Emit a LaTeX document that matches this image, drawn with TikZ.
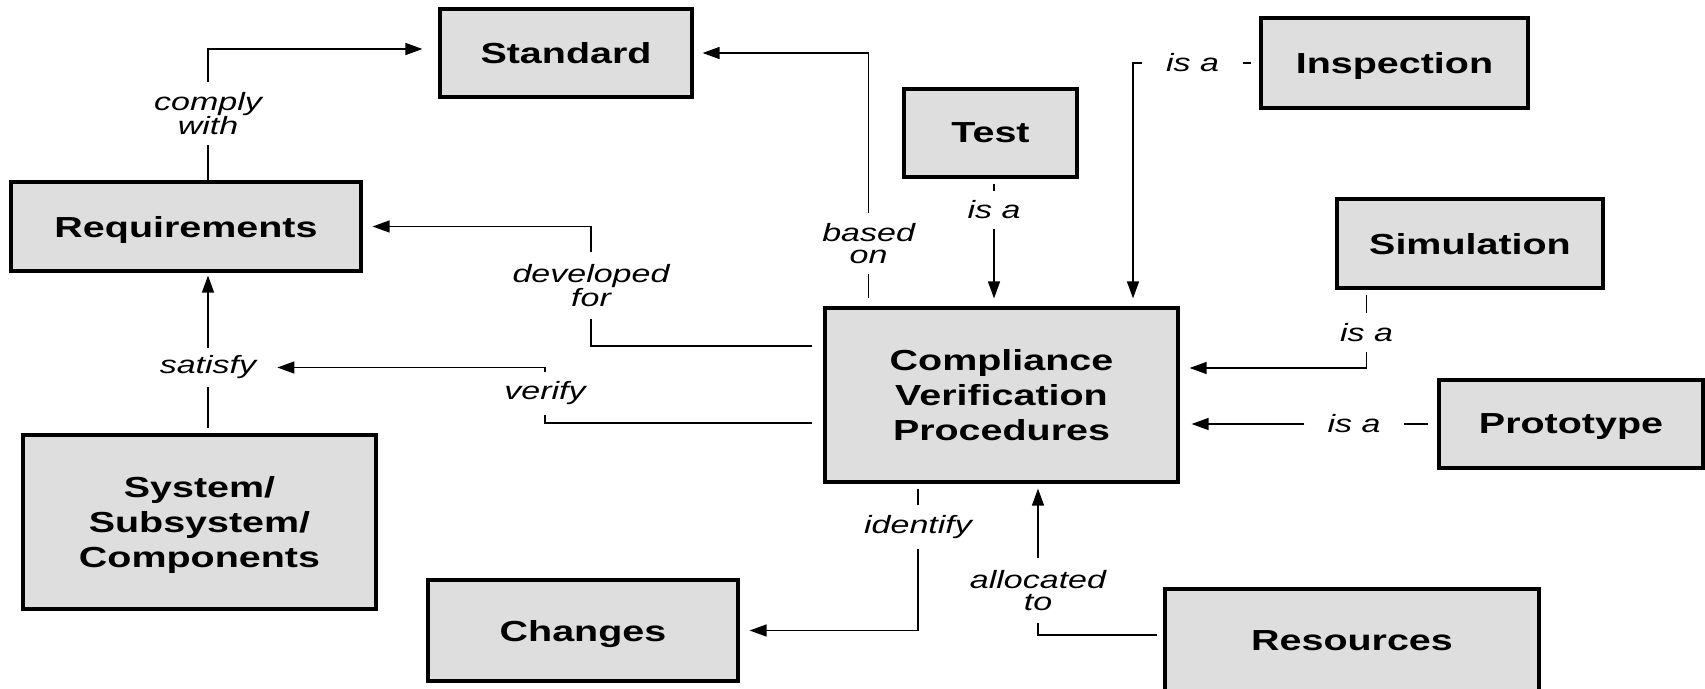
\documentclass[tikz,border=0pt]{standalone}
\usepackage{fontspec}
\setmainfont{Liberation Sans}[FakeStretch=1.36]
\usetikzlibrary{arrows.meta,calc}
\definecolor{boxgray}{HTML}{DEDEDE}
\begin{document}
\begin{tikzpicture}[x=1pt,y=-1pt,
  box/.style={draw=black, line width=3.2pt, fill=boxgray, font=\bfseries\fontsize{29}{35}\selectfont, align=center, inner sep=0pt, text depth=0pt},
  lbl/.style={font=\itshape\fontsize{25}{22.5}\selectfont, align=center, inner xsep=22pt, inner ysep=10pt},
  conn/.style={line width=1.4pt},
  arr/.style={conn, -{Triangle[length=17pt,width=12pt]}}]
\useasboundingbox (0,0) rectangle (1705,688);
% boxes
\node[box, minimum width=252pt, minimum height=88pt] (std) at (566,53) {Standard};
\node[box, minimum width=350pt, minimum height=89pt] (req) at (186,226.5) {Requirements};
\node[box, minimum width=353pt, minimum height=174pt] (sys) at (199.5,522) {System/\\Subsystem/\\Components};
\node[box, minimum width=310pt, minimum height=101pt] (chg) at (583,630.5) {Changes};
\node[box, minimum width=173pt, minimum height=88pt] (test) at (990.5,133) {Test};
\node[box, minimum width=267pt, minimum height=90pt] (insp) at (1394.5,63) {Inspection};
\node[box, minimum width=266pt, minimum height=89pt] (sim) at (1470,243.5) {Simulation};
\node[box, minimum width=353pt, minimum height=174pt] (cvp) at (1001.5,395) {Compliance\\Verification\\Procedures};
\node[box, minimum width=264pt, minimum height=88pt] (proto) at (1571,424) {Prototype};
\node[box, minimum width=374pt, minimum height=104pt] (res) at (1352,641) {Resources};
% labels
\node[lbl] (cw) at (208,113.5) {comply\\with};
\node[lbl] (bo) at (868.6,243.5) {based\\on};
\node[lbl] (ti) at (994,210) {is a};
\node[lbl, inner xsep=24pt] (ii) at (1192.5,63) {is a};
\node[lbl] (si) at (1366.5,332.5) {is a};
\node[lbl, inner xsep=23pt] (pi) at (1354,424) {is a};
\node[lbl, inner ysep=12pt] (al) at (1038,590.5) {allocated\\to};
\node[lbl] (id) at (918,527) {identify};
\node[lbl, inner ysep=12pt] (dev) at (591,285.5) {developed\\for};
\node[lbl] (ver) at (545,393.5) {verify};
\node[lbl, inner xsep=21pt, inner ysep=8pt] (sat) at (208,367.5) {satisfy};
\coordinate (kx) at (1133,0);
% connectors
\draw[conn] (req.north -| cw) -- (cw.south);
\draw[arr, shorten >=16pt] (cw.north) |- ($(std.west)+(0,-4)$);
\draw[conn, shorten <=8pt] (cvp.north -| bo) -- (bo.south);
\draw[arr, shorten >=9pt] (bo.north) |- (std.east);
\draw[conn, shorten <=5pt] (test.south -| ti) -- (ti.north);
\draw[arr, shorten >=8pt] (ti.south) -- (cvp.north -| ti);
\draw[conn, shorten <=8pt] (insp.west) -- (ii.east);
\draw[arr, shorten >=8pt] (ii.west) -| (kx |- cvp.north);
\draw[conn, shorten <=5pt] (sim.south -| si) -- (si.north);
\draw[arr, shorten >=10pt] (si.south) |- ($(cvp.east)+(0,-27)$);
\draw[conn, shorten <=9pt] (proto.west) -- (pi.east);
\draw[arr, shorten >=12pt] (pi.west) -- (cvp.east |- pi);
\draw[conn, shorten <=6pt] ($(res.west)+(0,-6)$) -| (al.south);
\draw[arr, shorten >=5pt] (al.north) -- (cvp.south -| al);
\draw[conn, shorten <=5pt] (cvp.south -| id) -- (id.north);
\draw[arr, shorten >=10pt] (id.south) |- (chg.east);
\draw[conn, shorten <=11pt] ($(cvp.west)+(0,-49)$) -| (dev.south);
\draw[arr, shorten >=10pt] (dev.north) |- (req.east);
\draw[conn, shorten <=11pt] ($(cvp.west)+(0,28)$) -| (ver.south);
\draw[arr] (ver.north) |- (sat.east);
\draw[conn, shorten <=5pt] (sys.north -| sat) -- (sat.south);
\draw[arr, shorten >=3pt] (sat.north) -- (req.south -| sat);
\end{tikzpicture}
\end{document}
